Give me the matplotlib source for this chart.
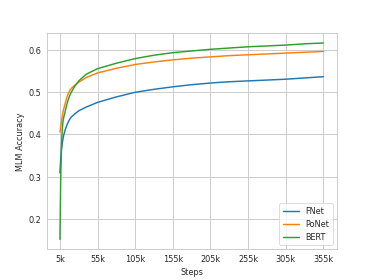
import matplotlib
matplotlib.use("Agg")
import matplotlib.pyplot as plt
import seaborn as sns

# steps in thousands
steps = [5, 6, 7, 8, 9, 10, 12, 14, 16, 18, 20, 25, 30, 40, 55, 80, 105,
         130, 155, 180, 205, 230, 255, 280, 305, 330, 355]

fnet = [0.309, 0.340, 0.362, 0.377, 0.389, 0.398, 0.411, 0.421, 0.429, 0.436,
        0.441, 0.449, 0.456, 0.465, 0.476, 0.489, 0.500, 0.507, 0.513, 0.518,
        0.522, 0.525, 0.527, 0.529, 0.531, 0.534, 0.537]
ponet = [0.406, 0.418, 0.430, 0.442, 0.452, 0.460, 0.474, 0.486, 0.497, 0.504,
         0.509, 0.517, 0.524, 0.535, 0.546, 0.557, 0.566, 0.572, 0.577, 0.581,
         0.584, 0.587, 0.589, 0.591, 0.593, 0.595, 0.597]
bert = [0.151, 0.290, 0.370, 0.410, 0.430, 0.440, 0.455, 0.470, 0.482, 0.492,
        0.500, 0.515, 0.527, 0.543, 0.556, 0.569, 0.580, 0.588, 0.594, 0.598,
        0.602, 0.605, 0.608, 0.610, 0.612, 0.615, 0.617]

tick_steps = [5, 55, 105, 155, 205, 255, 305, 355]
tick_labels = [f"{t}k" for t in tick_steps]

sns.set_style("whitegrid")
plt.rcParams["grid.linewidth"] = 1.2
plt.rcParams["axes.linewidth"] = 1.2

x = [s * 1000 for s in steps]
fig, ax = plt.subplots(figsize=(6.4, 4.8), dpi=374 / 6.4)
ax.plot(x, fnet, label="FNet", lw=1.8)
ax.plot(x, ponet, label="PoNet", lw=1.8)
ax.plot(x, bert, label="BERT", lw=1.8)

ax.set_xticks([t * 1000 for t in tick_steps])
ax.set_xticklabels(tick_labels)
ax.set_xlabel("Steps")
ax.set_ylabel("MLM Accuracy")
ax.legend(loc="lower right")

fig.savefig("out.png")
